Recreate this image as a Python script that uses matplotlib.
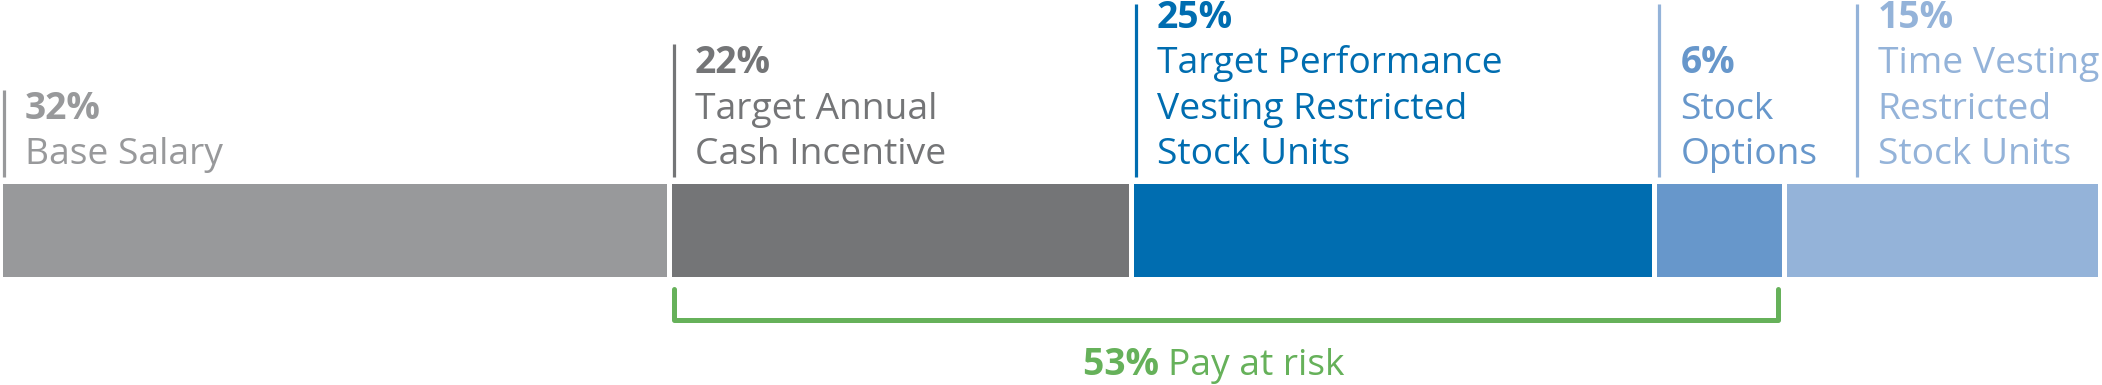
import matplotlib.pyplot as plt
import numpy as np

# Pay mix shares (percent)
categories = ["Base Salary", "Target Annual\nCash Incentive",
              "Target Performance\nVesting Restricted\nStock Units",
              "Stock\nOptions", "Time Vesting\nRestricted\nStock Units"]
shares = [32, 22, 25, 6, 15]
pct_labels = ["32%", "22%", "25%", "6%", "15%"]
at_risk_idx = [1, 2, 3]
at_risk_label = "53%"
at_risk_text = "Pay at risk"

bar_colors = ["#98999b", "#747577", "#006db0", "#6797cb", "#94b3d9"]
text_colors = ["#98999b", "#747577", "#006db0", "#6797cb", "#94b3d9"]
rule_colors = ["#98999b", "#747577", "#006db0", "#94b3d9", "#94b3d9"]
green = "#66b15a"

plt.rcParams['font.family'] = ['Open Sans', 'DejaVu Sans']

W, H = 2102, 385
fig = plt.figure(figsize=(W / 100, H / 100), dpi=100)
ax = fig.add_axes([0, 0, 1, 1])

# horizontal scale: px per percent point, gap between bars in data units
ppu = 20.75
x_off = 3
gap = 5 / ppu
ax.set_xlim(-x_off / ppu, (W - x_off) / ppu)
ax.set_ylim(H, 0)  # y in pixels from the top
ax.axis('off')

shares_arr = np.array(shares, dtype=float)
lefts = np.concatenate([[0], np.cumsum(shares_arr)[:-1]]) + np.arange(len(shares)) * gap

ax.barh(230.5, shares_arr, left=lefts, height=93, color=bar_colors, edgecolor='none')

# labels above bars
fs = 26.8
line_step = 45.3
last_base = 164
rule_shift_px = [1, 2, 2, 2, 70]
rule_top = [90, 44, 4, 4, 4]
for i, (cat, pct) in enumerate(zip(categories, pct_labels)):
    rx = lefts[i] + rule_shift_px[i] / ppu
    ax.plot([rx, rx], [rule_top[i], 177], color=rule_colors[i], lw=2.3,
            solid_capstyle='butt')
    tx = rx + 21 / ppu
    lines = [pct] + cat.split("\n")
    n = len(lines)
    for k, ln in enumerate(lines):
        yb = last_base - (n - 1 - k) * line_step
        ax.text(tx, yb, ln, fontsize=fs, color=text_colors[i],
                fontweight='bold' if k == 0 else 'normal',
                ha='left', va='baseline')

# pay-at-risk bracket
bx0 = lefts[at_risk_idx[0]] + 2 / ppu
bx1 = lefts[at_risk_idx[-1]] + shares_arr[at_risk_idx[-1]] - 4 / ppu
ax.plot([bx0, bx0, bx1, bx1], [289, 320, 320, 289], color=green, lw=3.6,
        solid_joinstyle='round', solid_capstyle='round')

cx = (bx0 + bx1) / 2 - 12 / ppu
t1 = ax.text(cx, 375, at_risk_label + " ", fontsize=fs, color=green,
             fontweight='bold', ha='left', va='baseline')
t2 = ax.text(cx, 375, at_risk_text, fontsize=fs, color=green,
             ha='left', va='baseline')
fig.canvas.draw()
r = fig.canvas.get_renderer()
w1 = t1.get_window_extent(r).width / ppu
w2 = t2.get_window_extent(r).width / ppu
start = cx - (w1 + w2) / 2
t1.set_x(start)
t2.set_x(start + w1)

fig.savefig("out.png", dpi=100)
